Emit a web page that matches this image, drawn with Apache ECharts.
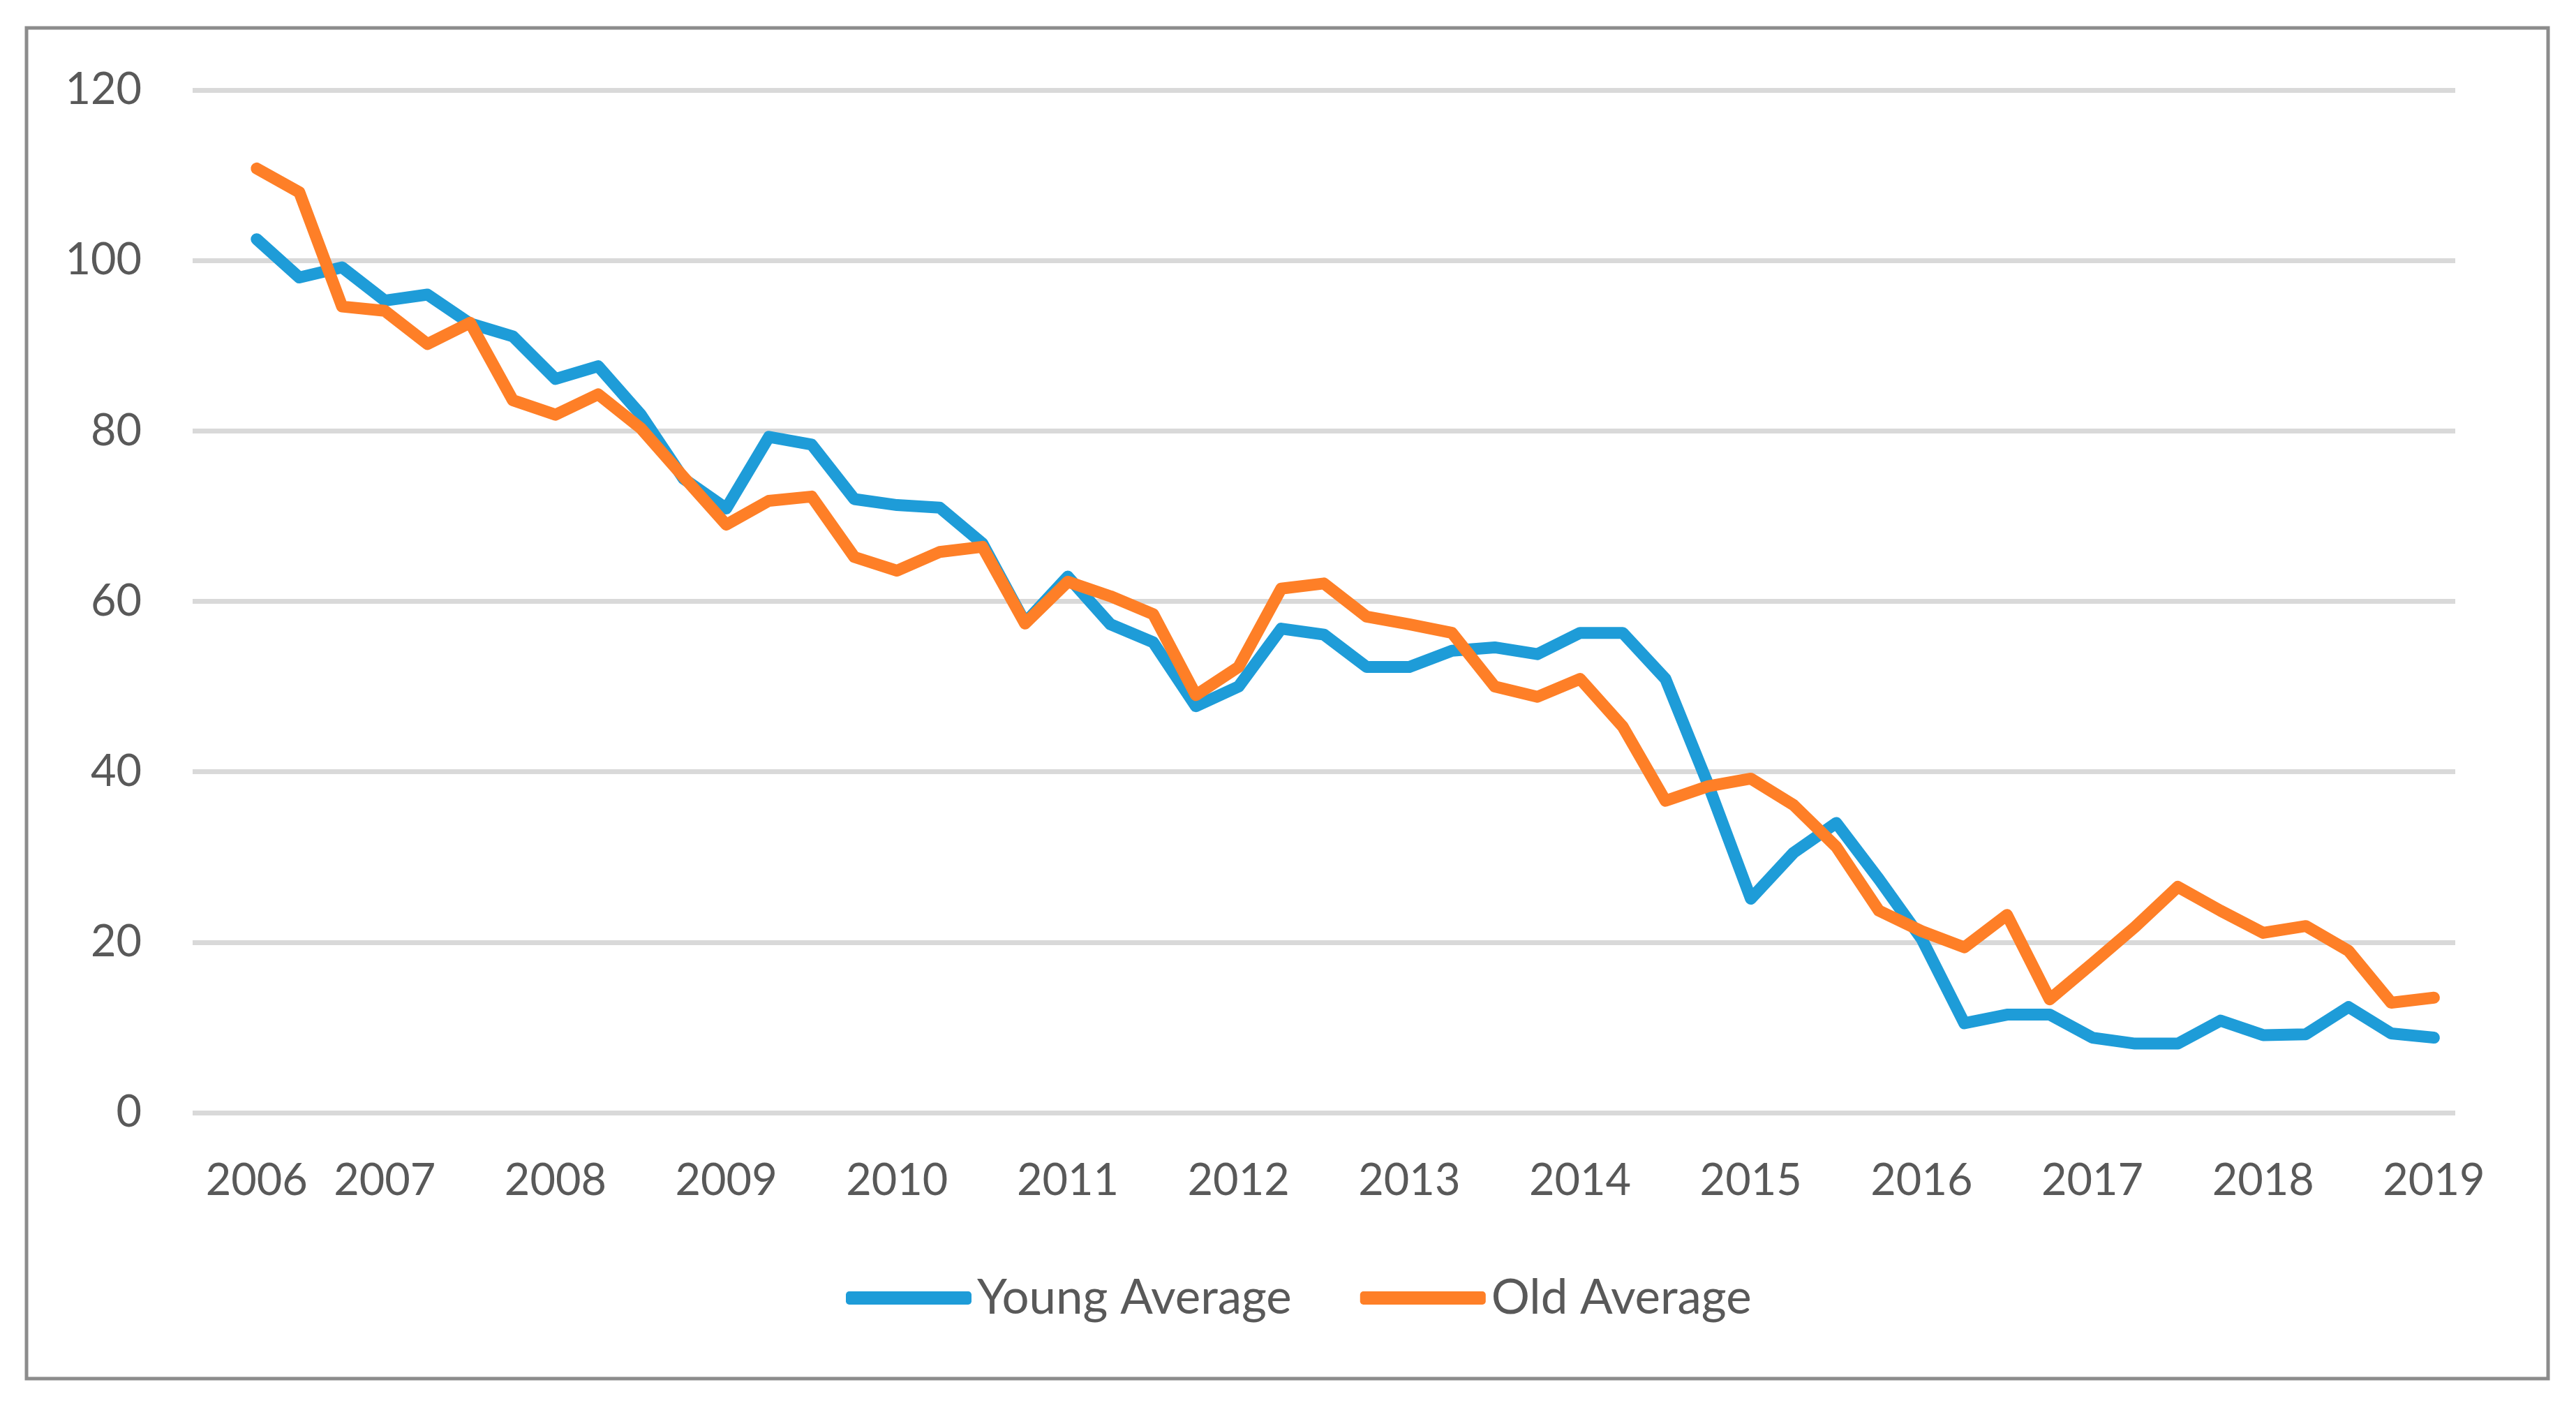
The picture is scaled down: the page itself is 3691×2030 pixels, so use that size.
<!DOCTYPE html>
<html>
<head>
<meta charset="utf-8">
<script src="https://cdn.jsdelivr.net/npm/echarts@6/dist/echarts.min.js"></script>
<style>
html,body{margin:0;padding:0;background:#fff;}
#chart{width:3691px;height:2030px;}
</style>
</head>
<body>
<div id="chart"></div>
<script>
// Quarterly categories (first slot is an empty leading category, as in the source chart)
const categories = [
  '2006 Q1','2006 Q2','2006 Q3','2006 Q4',
  '2007 Q1','2007 Q2','2007 Q3','2007 Q4',
  '2008 Q1','2008 Q2','2008 Q3','2008 Q4',
  '2009 Q1','2009 Q2','2009 Q3','2009 Q4',
  '2010 Q1','2010 Q2','2010 Q3','2010 Q4',
  '2011 Q1','2011 Q2','2011 Q3','2011 Q4',
  '2012 Q1','2012 Q2','2012 Q3','2012 Q4',
  '2013 Q1','2013 Q2','2013 Q3','2013 Q4',
  '2014 Q1','2014 Q2','2014 Q3','2014 Q4',
  '2015 Q1','2015 Q2','2015 Q3','2015 Q4',
  '2016 Q1','2016 Q2','2016 Q3','2016 Q4',
  '2017 Q1','2017 Q2','2017 Q3','2017 Q4',
  '2018 Q1','2018 Q2','2018 Q3','2018 Q4',
  '2019 Q1'
];

// Tick labels shown on the category axis
const xTickIndex = [1, 4, 8, 12, 16, 20, 24, 28, 32, 36, 40, 44, 48, 52];
const xTickText  = ['2006','2007','2008','2009','2010','2011','2012','2013','2014','2015','2016','2017','2018','2019'];

// Y axis ticks
const yMin = 0, yMax = 120, yStep = 20;

const youngAverage = [null,
  102.5, 98.0, 99.2, 95.3, 96.0, 92.6, 91.1, 86.1, 87.6, 81.9,
  74.4, 70.9, 79.3, 78.4, 72.0, 71.3, 71.0, 66.8, 57.5, 62.9,
  57.3, 55.2, 47.7, 50.0, 56.8, 56.1, 52.3, 52.3, 54.2, 54.6,
  53.8, 56.3, 56.3, 50.9, 38.5, 25.1, 30.5, 34.0, 27.4, 20.4,
  10.5, 11.5, 11.5, 8.8, 8.1, 8.1, 10.8, 9.1, 9.2, 12.4,
  9.3, 8.8
];

const oldAverage = [null,
  110.8, 108.0, 94.6, 94.1, 90.2, 92.7, 83.6, 81.9, 84.3, 80.3,
  74.6, 69.0, 71.8, 72.3, 65.2, 63.6, 65.8, 66.4, 57.4, 62.3,
  60.6, 58.5, 49.0, 52.3, 61.5, 62.1, 58.2, 57.3, 56.3, 50.0,
  48.8, 50.9, 45.3, 36.6, 38.3, 39.2, 36.1, 31.2, 23.7, 21.3,
  19.4, 23.2, 13.3, 17.5, 21.8, 26.5, 23.7, 21.1, 21.9, 19.0,
  12.9, 13.5
];

const FONT = 'Lato, "Open Sans", sans-serif';
const TEXT = '#595959';

const chart = echarts.init(document.getElementById('chart'), null, {renderer: 'canvas'});
chart.setOption({
  backgroundColor: '#ffffff',
  animation: false,
  graphic: [{
    type: 'rect',
    shape: {x: 38, y: 40, width: 3613, height: 1935},
    style: {fill: 'none', stroke: '#8c8c8c', lineWidth: 5},
    silent: true, z: -1
  }],
  grid: {left: 276, right: 173, top: 129, bottom: 436, containLabel: false},
  legend: {
    data: ['Young Average', 'Old Average'],
    left: 1207,
    top: 1820,
    itemWidth: 180,
    itemHeight: 19,
    itemGap: 98,
    icon: 'roundRect',
    textStyle: {fontFamily: FONT, fontSize: 69, color: TEXT, padding: [0, 0, 0, 3]}
  },
  xAxis: {
    type: 'category',
    data: categories,
    boundaryGap: true,
    axisLine: {show: false},
    axisTick: {show: false},
    splitLine: {show: false},
    axisLabel: {
      interval: function (idx) { return xTickIndex.indexOf(idx) >= 0; },
      formatter: function (val, idx) {
        const k = xTickIndex.indexOf(idx);
        return k >= 0 ? xTickText[k] : '';
      },
      fontFamily: FONT, fontSize: 63, color: TEXT, margin: 66
    }
  },
  yAxis: {
    type: 'value',
    min: yMin, max: yMax, interval: yStep,
    axisLine: {show: false},
    axisTick: {show: false},
    splitLine: {lineStyle: {color: '#d9d9d9', width: 7}},
    axisLabel: {fontFamily: FONT, fontSize: 63, color: TEXT, margin: 73}
  },
  series: [
    {
      name: 'Young Average', type: 'line', data: youngAverage,
      showSymbol: false, symbol: 'none', connectNulls: false,
      itemStyle: {color: '#1e9cd8'},
      lineStyle: {color: '#1e9cd8', width: 17, cap: 'round', join: 'round'}
    },
    {
      name: 'Old Average', type: 'line', data: oldAverage,
      showSymbol: false, symbol: 'none', connectNulls: false,
      itemStyle: {color: '#fe7f27'},
      lineStyle: {color: '#fe7f27', width: 17, cap: 'round', join: 'round'}
    }
  ]
});
</script>
</body>
</html>
